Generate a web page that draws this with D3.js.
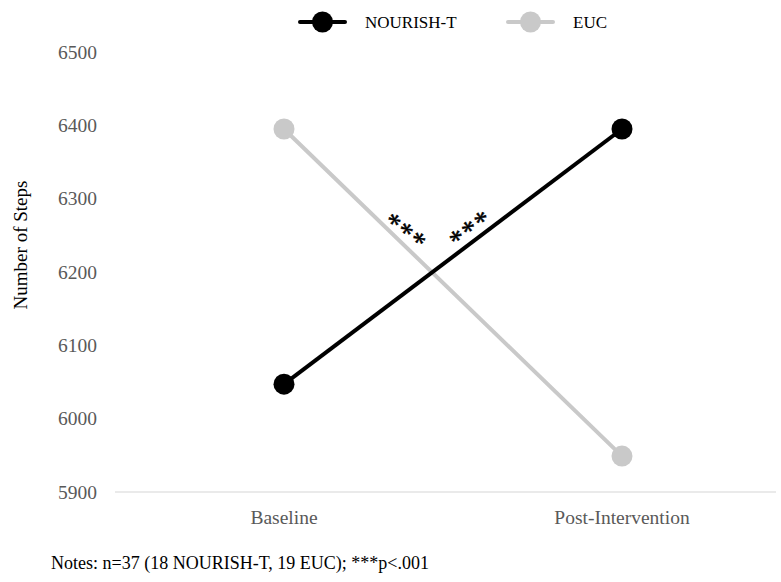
<!DOCTYPE html>
<html>
<head>
<meta charset="utf-8">
<script src="https://cdn.jsdelivr.net/npm/d3@7"></script>
<style>
  body { margin: 0; background: #fff; }
</style>
</head>
<body>
<script>
var timepoints = ["Baseline", "Post-Intervention"];
var seriesNames = ["NOURISH-T", "EUC"];
var nourishSteps = [6047, 6395];
var eucSteps = [6395, 5949];
var yTicks = [5900, 6000, 6100, 6200, 6300, 6400, 6500];
var colors = ["#000000", "#c9c9c9"];

var width = 781, height = 582;
var serif = "Liberation Serif";

var svg = d3.select("body").append("svg")
    .attr("width", width)
    .attr("height", height)
    .attr("font-family", serif);

var x = d3.scalePoint()
    .domain(timepoints)
    .range([115, 791])
    .padding(0.5);

var y = d3.scaleLinear()
    .domain([5900, 6500])
    .range([492, 52]);

// baseline axis line
svg.append("line")
    .attr("x1", 115).attr("x2", 776)
    .attr("y1", y(5900)).attr("y2", y(5900))
    .attr("stroke", "#e3e3e3")
    .attr("stroke-width", 1.5);

// y tick labels
svg.append("g").selectAll("text")
    .data(yTicks)
  .enter().append("text")
    .attr("x", 97)
    .attr("y", function(d) { return y(d); })
    .attr("dy", "0.35em")
    .attr("text-anchor", "end")
    .attr("fill", "#595959")
    .attr("font-family", serif)
    .style("font-size", "19.5px")
    .text(function(d) { return d; });

// x tick labels
svg.append("g").selectAll("text")
    .data(timepoints)
  .enter().append("text")
    .attr("x", function(d) { return x(d); })
    .attr("y", 517)
    .attr("dy", "0.35em")
    .attr("text-anchor", "middle")
    .attr("fill", "#595959")
    .attr("font-family", serif)
    .style("font-size", "19.5px")
    .text(function(d) { return d; });

// y axis title
svg.append("text")
    .attr("transform", "translate(27," + 245 + ") rotate(-90)")
    .attr("text-anchor", "middle")
    .attr("fill", "#000")
    .attr("font-family", serif)
    .style("font-size", "19px")
    .text("Number of Steps");

var line = d3.line()
    .x(function(d, i) { return x(timepoints[i]); })
    .y(function(d) { return y(d); });

var series = [eucSteps, nourishSteps];
var seriesColors = [colors[1], colors[0]];

series.forEach(function(s, k) {
  svg.append("path")
      .datum(s)
      .attr("d", line)
      .attr("fill", "none")
      .attr("stroke", seriesColors[k])
      .attr("stroke-width", 4);

  svg.append("g").selectAll("circle")
      .data(s)
    .enter().append("circle")
      .attr("cx", function(d, i) { return x(timepoints[i]); })
      .attr("cy", function(d) { return y(d); })
      .attr("r", 10.5)
      .attr("fill", seriesColors[k]);
});

// significance stars along each line (centred on the given point)
var stars = [
  {x: 410, y: 226, angle: 37},
  {x: 466, y: 223, angle: -37}
];
svg.append("g").selectAll("text")
    .data(stars)
  .enter().append("text")
    .attr("transform", function(d) { return "translate(" + d.x + "," + d.y + ") rotate(" + d.angle + ")"; })
    .attr("text-anchor", "middle")
    .attr("dy", "0.62em")
    .attr("font-family", serif)
    .style("font-size", "28px")
    .style("letter-spacing", "1.5px")
    .style("stroke", "#000")
    .style("stroke-width", "0.5px")
    .text("***");

// legend
var legendX = [300, 508];
seriesNames.forEach(function(name, i) {
  var g = svg.append("g").attr("transform", "translate(" + legendX[i] + ",22)");
  g.append("line")
      .attr("x1", 0).attr("x2", 45)
      .attr("stroke", colors[i])
      .attr("stroke-width", 4)
      .attr("stroke-linecap", "round");
  g.append("circle")
      .attr("cx", 22.5)
      .attr("r", 10.5)
      .attr("fill", colors[i]);
  g.append("text")
      .attr("x", 65)
      .attr("dy", "0.35em")
      .attr("font-family", serif)
      .style("font-size", "17px")
      .text(name);
});

// notes
svg.append("text")
    .attr("x", 51)
    .attr("y", 563)
    .attr("dy", "0.35em")
    .attr("font-family", serif)
    .style("font-size", "18px")
    .text("Notes: n=37 (18 NOURISH-T, 19 EUC); ***p<.001");
</script>
</body>
</html>
